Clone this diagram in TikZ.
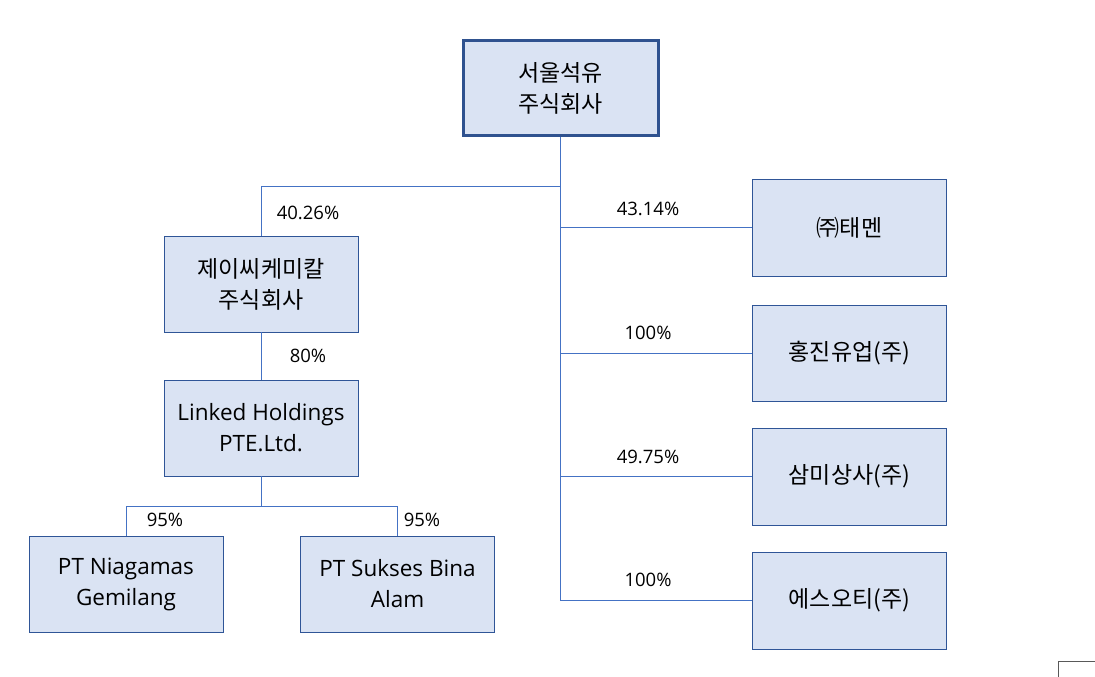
\documentclass[tikz,border=0pt]{standalone}
\usepackage{fontspec}
\setmainfont{Open Sans}
\newfontfamily\kr{Noto Sans CJK KR}
\definecolor{boxfill}{HTML}{DAE3F3}
\definecolor{boxline}{HTML}{2F5597}
\definecolor{topline}{HTML}{2F528F}
\definecolor{conn}{HTML}{4472C4}
\definecolor{cornergray}{HTML}{595959}
\begin{document}
\begin{tikzpicture}[x=1pt,y=-1pt,
  orgbox/.style={draw=boxline,fill=boxfill,line width=0.9pt,minimum width=194pt,minimum height=96pt,inner sep=0pt,align=center,font=\fontsize{22.5}{31}\selectfont},
  krbox/.style={orgbox,font=\kr\fontsize{23}{31}\selectfont},
  topbox/.style={krbox,draw=topline,line width=3pt,minimum width=195pt,minimum height=94pt},
  pct/.style={font=\fontsize{18.5}{20}\selectfont,inner sep=0pt},
  link/.style={draw=conn,line width=0.9pt}]
\useasboundingbox (0,0) rectangle (1095,677);
\node[topbox] (top) at (560.5,88) {서울석유\\주식회사};
\node[krbox] (jc) at (261,284) {제이씨케미칼\\주식회사};
\node[orgbox] (linked) at (261,428) {Linked Holdings\\PTE.Ltd.};
\node[orgbox] (pn) at (126,584) {PT Niagamas\\Gemilang};
\node[orgbox] (ps) at (397.5,584) {PT Sukses Bina\\Alam};
\node[krbox,minimum height=97pt] (t1) at (849.5,227.5) {㈜태멘};
\node[krbox] (t2) at (849.5,353) {홍진유업(주)};
\node[krbox,minimum height=97pt] (t3) at (849.5,476.5) {삼미상사(주)};
\node[krbox,minimum height=97pt] (t4) at (849.5,600.5) {에스오티(주)};
\coordinate (a) at (560.5,186);
\coordinate (b) at (261,506);
\draw[link] (top.south) -- (top.south |- t4.west) -- (t4.west);
\draw[link] (a) -- (jc.north |- a) -- (jc.north);
\draw[link] (top.south |- t1.west) -- (t1.west);
\draw[link] (top.south |- t2.west) -- (t2.west);
\draw[link] (top.south |- t3.west) -- (t3.west);
\draw[link] (jc.south) -- (linked.north);
\draw[link] (linked.south) -- (b);
\draw[link] (pn.north |- b) -- (ps.north |- b);
\draw[link] (pn.north |- b) -- (pn.north);
\draw[link] (ps.north |- b) -- (ps.north);
\node[pct] (l1) at (308,213) {40.26\%};
\node[pct] (l2) at (308,356) {80\%};
\node[pct] (l3) at (165,520) {95\%};
\node[pct] (l4) at (422,520) {95\%};
\node[pct] (r1) at (648,209) {43.14\%};
\node[pct] (r2) at (648,333) {100\%};
\node[pct] (r3) at (648,457) {49.75\%};
\node[pct] (r4) at (648,580) {100\%};
\coordinate (m1) at (1058,677);
\coordinate (m2) at (1058,661);
\coordinate (m3) at (1095,661);
\draw[cornergray,line width=1pt] (m1) -- (m2) -- (m3);
\end{tikzpicture}
\end{document}
